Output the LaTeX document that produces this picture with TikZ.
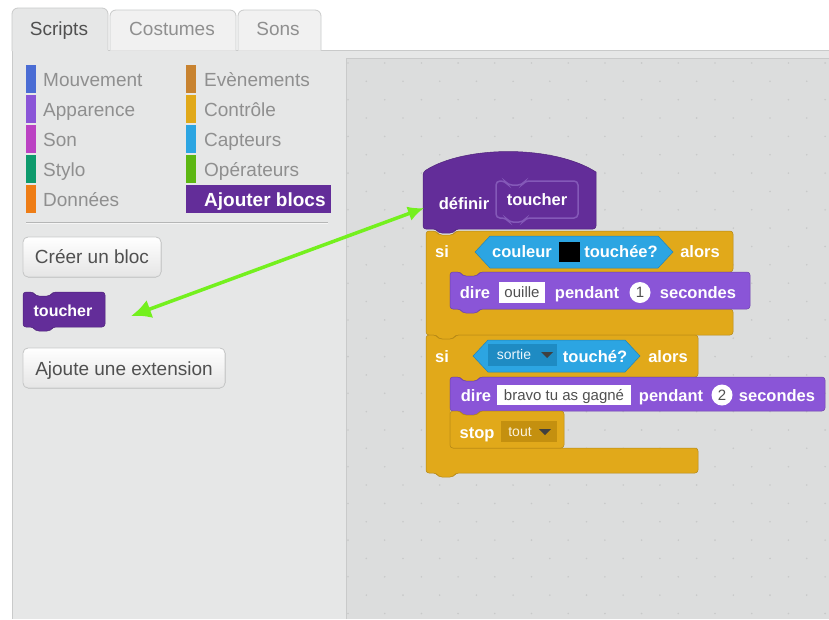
\documentclass[tikz,border=0pt]{standalone}
\usepackage{fontspec}
\setmainfont{Liberation Sans}
\usetikzlibrary{arrows.meta}
\definecolor{panelbg}{HTML}{E6E7E7}
\definecolor{scriptbg}{HTML}{DCDDDD}
\definecolor{edge}{HTML}{C9CACA}
\definecolor{tabbg}{HTML}{F1F1F1}
\definecolor{cattext}{HTML}{8F8F8F}
\definecolor{darktext}{HTML}{505050}
\definecolor{cMouv}{HTML}{4A6CD4}
\definecolor{cApp}{HTML}{8A55D7}
\definecolor{cSon}{HTML}{BB42C3}
\definecolor{cStylo}{HTML}{0E9A6C}
\definecolor{cDon}{HTML}{EE7D16}
\definecolor{cEve}{HTML}{C88330}
\definecolor{cCtrl}{HTML}{E1A91A}
\definecolor{cCapt}{HTML}{2CA5E2}
\definecolor{cOp}{HTML}{5CB712}
\definecolor{cMore}{HTML}{632D99}
\definecolor{cMoreLine}{HTML}{8459B8}
\definecolor{ddBlue}{HTML}{1E8BC3}
\definecolor{ddOrange}{HTML}{C4900F}
\definecolor{arrowgreen}{HTML}{74F01E}
\definecolor{dotcol}{HTML}{C8C9C9}

% stack block: style, x1, y1, x2, y2
\newcommand{\stackshape}[5]{%
  \filldraw[#1, rounded corners=3pt] (#2,#3) -- ++(10,0) -- ++(3,4) -- ++(14,0) -- ++(3,-4) -- (#4,#3) -- (#4,#5) -- (#2+30,#5) -- ++(-3,4) -- ++(-14,0) -- ++(-3,-4) -- (#2,#5) -- cycle;}
% cap block (flat bottom)
\newcommand{\capshape}[5]{%
  \filldraw[#1, rounded corners=3pt] (#2,#3) -- ++(10,0) -- ++(3,4) -- ++(14,0) -- ++(3,-4) -- (#4,#3) -- (#4,#5) -- (#2,#5) -- cycle;}
% C block: style, x1, y1, x2, yA, yB, y2, x3
\newcommand{\cshape}[8]{%
  \filldraw[#1, rounded corners=3pt] (#2,#3) -- ++(10,0) -- ++(3,4) -- ++(14,0) -- ++(3,-4) -- (#4,#3) -- (#4,#5) -- (#2+54,#5) -- ++(-3,4) -- ++(-14,0) -- ++(-3,-4) -- (#2+24,#5) -- (#2+24,#6) -- (#8,#6) -- (#8,#7) -- (#2+30,#7) -- ++(-3,4) -- ++(-14,0) -- ++(-3,-4) -- (#2,#7) -- cycle;}

\begin{document}
\begin{tikzpicture}[x=1pt,y=-1pt,
  blk/.style={font=\fontsize{16.5}{18}\selectfont\bfseries, text=white, inner sep=0pt, anchor=base},
  cat/.style={font=\fontsize{19}{22}\selectfont, text=cattext, inner sep=0pt, anchor=base west},
  tabtxt/.style={font=\fontsize{19}{22}\selectfont, text=cattext, inner sep=0pt, anchor=base},
  btn/.style={draw=edge, line width=0.8pt, rounded corners=5pt, top color=white, bottom color=tabbg!95!black},
  btntxt/.style={font=\fontsize{19}{22}\selectfont, text=darktext, inner sep=0pt, anchor=base},
  boxtxt/.style={font=\fontsize{15}{17}\selectfont, text=darktext, inner sep=0pt, anchor=base},
  ddtxt/.style={font=\fontsize{14}{16}\selectfont, inner sep=0pt, anchor=base},
  ctrl/.style={fill=cCtrl, draw=cCtrl!80!black, line width=0.5pt},
  looks/.style={fill=cApp, draw=cApp!80!black, line width=0.5pt},
  more/.style={fill=cMore, draw=cMore!80!black, line width=0.5pt},
  sens/.style={fill=cCapt, draw=cCapt!80!black, line width=0.5pt},
  catbar/.style={inner sep=0pt, minimum width=10pt, minimum height=28pt, anchor=north west}]
\useasboundingbox (0,0) rectangle (829,619);
\fill[white] (0,0) rectangle (829,619);

% panel
\fill[panelbg] (12,50) rectangle (829,619);
\draw[edge, line width=0.8pt] (12,50) -- (12,619);
\draw[edge, line width=0.8pt] (108,50) -- (829,50);
% script area
\fill[scriptbg] (346,58) rectangle (829,619);
\draw[edge, line width=0.8pt] (346,619) -- (346,58) -- (829,58);
\begin{scope}
  \clip (347,59) rectangle (829,619);
  \foreach \i in {0,...,13} {
    \foreach \j in {0,...,15} {
      \fill[dotcol] (348+36.7*\i, 63+36.7*\j) circle (0.9);
      \fill[dotcol] (366.3+36.7*\i, 81.3+36.7*\j) circle (0.9);
    }
  }
\end{scope}

% tabs
\filldraw[fill=tabbg, draw=edge, line width=0.8pt, rounded corners=6pt] (110,50.5) -- (110,10) -- (236,10) -- (236,50.5);
\filldraw[fill=tabbg, draw=edge, line width=0.8pt, rounded corners=6pt] (238,50.5) -- (238,10) -- (321,10) -- (321,50.5);
\fill[panelbg, rounded corners=6pt] (12,51) -- (12,8) -- (108,8) -- (108,51);
\draw[edge, line width=0.8pt, rounded corners=6pt] (12,51) -- (12,8) -- (108,8) -- (108,50);
\node[tabtxt, text=darktext] (tabScripts) at (59,35) {Scripts};
\node[tabtxt] (tabCostumes) at (172,35) {Costumes};
\node[tabtxt] (tabSons) at (278,35) {Sons};

% categories
\node[catbar, fill=cMouv] (barMouv) at (26,65) {};
\node[catbar, fill=cApp] (barApp) at (26,95) {};
\node[catbar, fill=cSon] (barSon) at (26,125) {};
\node[catbar, fill=cStylo] (barStylo) at (26,155) {};
\node[catbar, fill=cDon] (barDon) at (26,185) {};
\node[catbar, fill=cEve] (barEve) at (186,65) {};
\node[catbar, fill=cCtrl] (barCtrl) at (186,95) {};
\node[catbar, fill=cCapt] (barCapt) at (186,125) {};
\node[catbar, fill=cOp] (barOp) at (186,155) {};
\node[catbar, fill=cMore, minimum width=145pt] (barMore) at (186,185) {};
\node[cat] (tMouv) at (43,86) {Mouvement};
\node[cat] (tApp) at (43,116) {Apparence};
\node[cat] (tSon) at (43,146) {Son};
\node[cat] (tStylo) at (43,176) {Stylo};
\node[cat] (tDon) at (43,206) {Données};
\node[cat] (tEve) at (204,86) {Evènements};
\node[cat] (tCtrl) at (204,116) {Contrôle};
\node[cat] (tCapt) at (204,146) {Capteurs};
\node[cat] (tOp) at (204,176) {Opérateurs};
\node[cat, text=white, font=\fontsize{19}{22}\selectfont\bfseries] (tMore) at (204,206) {Ajouter blocs};
\draw[edge!90!black, line width=1pt] (26,222) -- (328,222);
\draw[white!60!panelbg, line width=0.8pt] (26,223.3) -- (328,223.3);

% buttons
\filldraw[btn] (23,237) rectangle (161,277);
\node[btntxt] (bCreer) at (92,263) {Créer un bloc};
\filldraw[btn] (23,348) rectangle (225,388);
\node[btntxt] (bExt) at (124,375) {Ajoute une extension};

% palette block
\stackshape{more}{23}{292}{105}{327}
\node[blk, font=\fontsize{16}{18}\selectfont\bfseries] (palToucher) at (63,316) {toucher};
\coordinate (arrL) at (131,316);

% define hat block
\filldraw[more] (423,172) .. controls (465,145) and (554,145) .. (596,172) [rounded corners=3pt] -- (596,229) -- (456,229) -- ++(-3,4) -- ++(-14,0) -- ++(-3,-4) -- (423,229) -- cycle;
\draw[cMoreLine, line width=1.5pt, rounded corners=4pt] (496,181) -- ++(9,0) -- ++(3,4) -- ++(14,0) -- ++(3,-4) -- (578,181) -- (578,218) -- (526,218) -- ++(-3,4) -- ++(-14,0) -- ++(-3,-4) -- (496,218) -- cycle;
\node[blk] (tDefinir) at (464,209.5) {définir};
\node[blk] (tToucher) at (537,205) {toucher};
\coordinate (arrR) at (424,208);

% if block 1
\cshape{ctrl}{426}{231}{733}{272}{309}{335}{733}
\node[blk] (si1) at (442,257.5) {si};
\filldraw[sens] (475,252) -- (490,236) -- (658,236) -- (673,252) -- (658,268) -- (490,268) -- cycle;
\node[blk] (couleur) at (522,257.5) {couleur};
\fill[black] (559,242) rectangle (580,262);
\node[blk] (touchee) at (621,257.5) {touchée?};
\node[blk] (alors1) at (700,257.5) {alors};
\stackshape{looks}{450}{272}{750}{309}
\node[blk] (dire1) at (475,298) {dire};
\fill[white] (499,282) rectangle (545,303);
\node[boxtxt] (ouille) at (522,297.5) {ouille};
\node[blk] (pendant1) at (587,298) {pendant};
\fill[white] (640,292.5) circle (10.5);
\node[boxtxt] (un) at (640,297.5) {1};
\node[blk] (secondes1) at (698,298) {secondes};

% if block 2
\cshape{ctrl}{426}{335}{698}{377}{448}{473}{698}
\node[blk] (si2) at (442,362) {si};
\filldraw[sens] (473,356) -- (488,340) -- (625,340) -- (640,356) -- (625,372) -- (488,372) -- cycle;
\fill[ddBlue] (488,344) rectangle (557,366);
\node[ddtxt, text=white!90!cCapt] (sortie) at (514,359) {sortie};
\fill[black!75] (541,352) -- (553,352) -- (547,358) -- cycle;
\node[blk] (touche) at (595,362) {touché?};
\node[blk] (alors2) at (668,362) {alors};
\stackshape{looks}{450}{377}{825}{411}
\node[blk] (dire2) at (476,401) {dire};
\fill[white] (497,385) rectangle (631,405);
\node[boxtxt] (bravo) at (564,400) {bravo tu as gagné};
\node[blk] (pendant2) at (671,401) {pendant};
\fill[white] (722,395) circle (10.5);
\node[boxtxt] (deux) at (722,400) {2};
\node[blk] (secondes2) at (777,401) {secondes};
\capshape{ctrl}{450}{411}{564}{448}
\node[blk] (stop) at (477,438) {stop};
\fill[ddOrange] (501,421) rectangle (557,442);
\node[ddtxt, text=white!85!cCtrl] (tout) at (520,436) {tout};
\fill[black!75] (539,429) -- (551,429) -- (545,435) -- cycle;

% green double arrow
\draw[arrowgreen, line width=3.5pt, {Latex[length=20pt,width=19pt]}-{Latex[length=16pt,width=15pt]}] (arrL) -- (arrR);
\end{tikzpicture}
\end{document}
